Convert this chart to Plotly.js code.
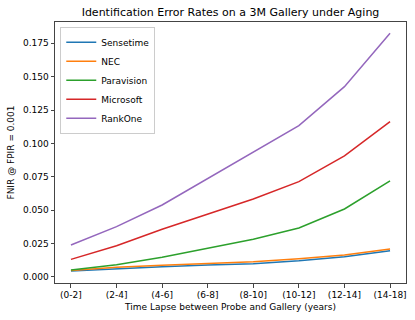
<!DOCTYPE html>
<html>
<head>
<meta charset="utf-8">
<script src="https://cdn.plot.ly/plotly-3.0.1.min.js"></script>
<style>
  html, body { margin: 0; padding: 0; background: #fff; }
  #chart { width: 415px; height: 320px; }
</style>
</head>
<body>
<div id="chart"></div>
<script>
// Time lapse bins (x axis)
const lapses = ['(0-2]', '(2-4]', '(4-6]', '(6-8]', '(8-10]', '(10-12]', '(12-14]', '(14-18]'];

// FNIR @ FPIR = 0.001 per algorithm
const sensetime  = [0.0045, 0.0062, 0.0077, 0.0090, 0.0100, 0.0122, 0.0152, 0.0197];
const nec        = [0.0048, 0.0072, 0.0087, 0.0100, 0.0115, 0.0137, 0.0165, 0.0210];
const paravision = [0.0052, 0.0092, 0.0147, 0.0212, 0.0282, 0.0367, 0.0509, 0.0719];
const microsoft  = [0.0132, 0.0234, 0.0357, 0.0468, 0.0584, 0.0714, 0.0906, 0.1163];
const rankone    = [0.0240, 0.0377, 0.0539, 0.0739, 0.0938, 0.1133, 0.1425, 0.1824];

const names  = ['Sensetime', 'NEC', 'Paravision', 'Microsoft', 'RankOne'];
const series = [sensetime, nec, paravision, microsoft, rankone];
const colors = ['#1f77b4', '#ff7f0e', '#2ca02c', '#d62728', '#9467bd'];

const font = 'DejaVu Sans, Verdana, sans-serif';

let traces = series.map((ys, i) => ({
    x: lapses,
    y: ys,
    mode: 'lines',
    name: names[i],
    line: { color: colors[i], width: 1.5 }
}));

let layout = {
    width: 415,
    height: 320,
    margin: { l: 55, r: 9, t: 22, b: 37 },
    paper_bgcolor: '#fff',
    plot_bgcolor: '#fff',
    font: { family: font, size: 9, color: '#000' },
    title: {
        text: 'Identification Error Rates on a 3M Gallery under Aging',
        font: { family: font, size: 11, color: '#000' },
        x: 0.5, xref: 'paper',
        y: 0.962, yref: 'container', yanchor: 'middle'
    },
    xaxis: {
        type: 'category',
        range: [-0.35, 7.35],
        showgrid: false, zeroline: false,
        showline: true, mirror: true, linecolor: '#444', linewidth: 1,
        ticks: 'outside', ticklen: 3.5, tickcolor: '#444',
        tickfont: { family: font, size: 9, color: '#000' },
        title: { text: 'Time Lapse between Probe and Gallery (years)', standoff: 4,
                 font: { family: font, size: 9, color: '#000' } }
    },
    yaxis: {
        range: [-0.0045, 0.1909],
        dtick: 0.025, tick0: 0,
        tickformat: '.3f',
        showgrid: false, zeroline: false,
        showline: true, mirror: true, linecolor: '#444', linewidth: 1,
        ticks: 'outside', ticklen: 3.5, tickcolor: '#444',
        tickfont: { family: font, size: 9, color: '#000' },
        title: { text: 'FNIR @ FPIR = 0.001', standoff: 6,
                 font: { family: font, size: 9, color: '#000' } }
    },
    legend: {
        x: 0.015, y: 0.982, xanchor: 'left', yanchor: 'top',
        bgcolor: 'rgba(255,255,255,0.8)',
        bordercolor: '#ccc', borderwidth: 1,
        font: { family: font, size: 9, color: '#000' },
        tracegroupgap: 0
    },
    showlegend: true
};

Plotly.newPlot('chart', traces, layout, { displayModeBar: false, staticPlot: true });
</script>
</body>
</html>
